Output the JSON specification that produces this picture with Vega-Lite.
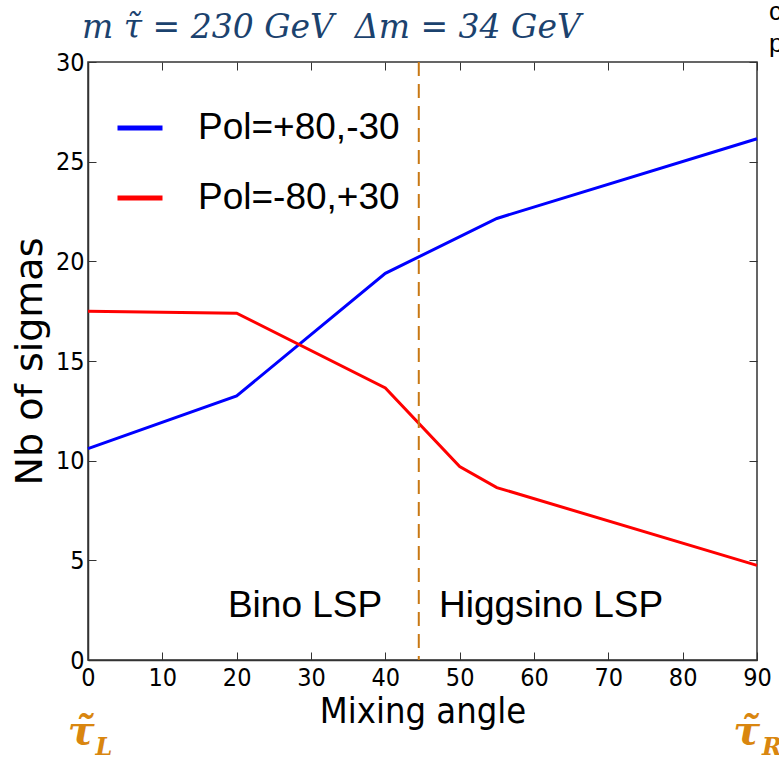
{
  "$schema": "https://vega.github.io/schema/vega-lite/v6.json",
  "width": 669,
  "height": 598,
  "autosize": "none",
  "padding": {"left": 88, "top": 62, "right": 22, "bottom": 97},
  "background": "white",
  "title": {
    "text": "m τ̃ = 230 GeV\u00a0\u00a0Δm = 34 GeV",
    "anchor": "start",
    "frame": "group",
    "font": "DejaVu Serif",
    "fontStyle": "italic",
    "fontWeight": "normal",
    "fontSize": 33,
    "color": "#1b426e",
    "dx": -6,
    "offset": -46
  },
  "config": {
    "view": {"stroke": "#333333", "strokeWidth": 1.5},
    "axis": {
      "grid": false,
      "domainColor": "#333333",
      "domainWidth": 1.5,
      "tickColor": "#333333",
      "tickSize": -8,
      "labelFont": "DejaVu Sans Condensed",
      "labelFontSize": 25,
      "labelColor": "black",
      "titleFont": "DejaVu Sans Condensed",
      "titleFontSize": 36,
      "titleFontWeight": "normal",
      "titleColor": "black"
    }
  },
  "datasets": {
    "curves": [
      {"angle": 0, "sigmas": 10.6, "pol": "Pol=+80,-30"},
      {"angle": 20, "sigmas": 13.25, "pol": "Pol=+80,-30"},
      {"angle": 40, "sigmas": 19.4, "pol": "Pol=+80,-30"},
      {"angle": 55, "sigmas": 22.15, "pol": "Pol=+80,-30"},
      {"angle": 90, "sigmas": 26.15, "pol": "Pol=+80,-30"},
      {"angle": 0, "sigmas": 17.5, "pol": "Pol=-80,+30"},
      {"angle": 20, "sigmas": 17.4, "pol": "Pol=-80,+30"},
      {"angle": 40, "sigmas": 13.65, "pol": "Pol=-80,+30"},
      {"angle": 50, "sigmas": 9.7, "pol": "Pol=-80,+30"},
      {"angle": 55, "sigmas": 8.65, "pol": "Pol=-80,+30"},
      {"angle": 90, "sigmas": 4.75, "pol": "Pol=-80,+30"}
    ]
  },
  "layer": [
    {
      "data": {"name": "curves"},
      "mark": {"type": "line", "strokeWidth": 3},
      "encoding": {
        "x": {"field": "angle", "type": "quantitative",
              "scale": {"domain": [0, 90], "nice": false},
              "axis": {"title": "Mixing angle", "values": [0,10,20,30,40,50,60,70,80,90], "labelPadding": 13, "titlePadding": 4, "labelFlush": false}},
        "y": {"field": "sigmas", "type": "quantitative",
              "scale": {"domain": [0, 30], "nice": false},
              "axis": {"title": "Nb of sigmas", "titleFont": "DejaVu Sans", "titleFontSize": 38, "values": [0,5,10,15,20,25,30], "labelPadding": 12, "titlePadding": 6}},
        "color": {"field": "pol", "type": "nominal",
                  "scale": {"domain": ["Pol=+80,-30", "Pol=-80,+30"], "range": ["#0000ff", "#ff0000"]},
                  "legend": {"title": null, "orient": "none", "legendX": 27, "legendY": 41,
                             "symbolType": "stroke", "symbolSize": 2025, "symbolStrokeWidth": 5,
                             "labelFont": "Liberation Sans", "labelFontSize": 37, "labelColor": "black",
                             "labelOffset": 33, "rowPadding": 27, "padding": 0, "labelLimit": 400}}
      }
    },
    {
      "data": {"values": [{"angle": 44.5}]},
      "mark": {"type": "rule", "color": "#c87814", "strokeWidth": 2, "strokeDash": [14, 8]},
      "encoding": {
        "x": {"field": "angle", "type": "quantitative",
              "axis": {"orient": "top", "labels": false, "title": null, "domain": false, "values": [0,10,20,30,40,50,60,70,80,90]}}
      }
    },
    {
      "data": {"values": [{"angle": 29.2, "sigmas": 2.7, "txt": "Bino LSP"}, {"angle": 62.3, "sigmas": 2.7, "txt": "Higgsino LSP"}]},
      "mark": {"type": "text", "font": "Liberation Sans", "fontSize": 37, "color": "black"},
      "encoding": {
        "x": {"field": "angle", "type": "quantitative", "axis": null},
        "y": {"field": "sigmas", "type": "quantitative",
              "axis": {"orient": "right", "labels": false, "title": null, "domain": false, "values": [0,5,10,15,20,25,30]}},
        "text": {"field": "txt"}
      }
    },
    {
      "data": {"values": [{"angle": -0.9, "sigmas": -3.6, "txt": "τ̃"}, {"angle": 88.6, "sigmas": -3.6, "txt": "τ̃"}]},
      "mark": {"type": "text", "font": "DejaVu Serif", "fontSize": 40, "fontStyle": "italic", "fontWeight": "bold", "color": "#d9860f"},
      "encoding": {
        "x": {"field": "angle", "type": "quantitative", "axis": null},
        "y": {"field": "sigmas", "type": "quantitative", "axis": null},
        "text": {"field": "txt"}
      }
    },
    {
      "data": {"values": [{"angle": 2.15, "sigmas": -4.4, "txt": "L"}, {"angle": 92.0, "sigmas": -4.4, "txt": "R"}]},
      "mark": {"type": "text", "font": "DejaVu Serif", "fontSize": 24, "fontStyle": "italic", "fontWeight": "bold", "color": "#d9860f"},
      "encoding": {
        "x": {"field": "angle", "type": "quantitative", "axis": null},
        "y": {"field": "sigmas", "type": "quantitative", "axis": null},
        "text": {"field": "txt"}
      }
    },
    {
      "data": {"values": [{"angle": 91.6, "sigmas": 32.5, "txt": "c"}, {"angle": 91.6, "sigmas": 30.9, "txt": "p"}]},
      "mark": {"type": "text", "font": "Liberation Sans", "fontSize": 26, "color": "black", "align": "left"},
      "encoding": {
        "x": {"field": "angle", "type": "quantitative", "axis": null},
        "y": {"field": "sigmas", "type": "quantitative", "axis": null},
        "text": {"field": "txt"}
      }
    }
  ],
  "resolve": {"axis": {"x": "independent", "y": "independent"}}
}
